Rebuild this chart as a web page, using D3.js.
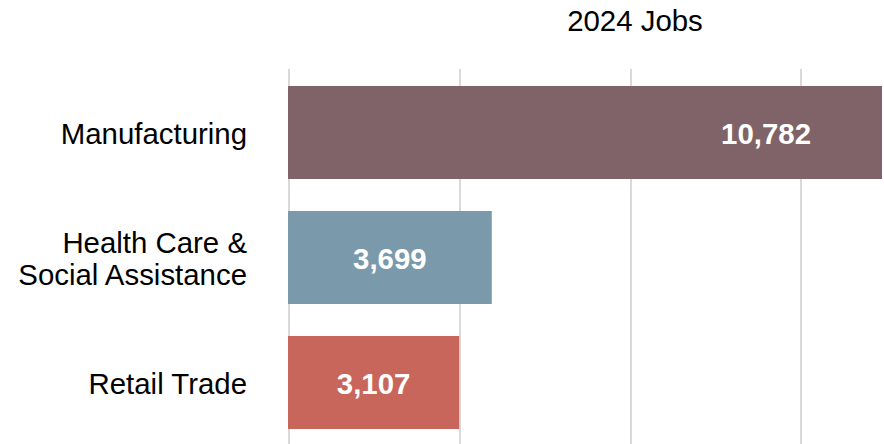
<!DOCTYPE html>
<html>
<head>
  <meta charset="utf-8" />
  <title>2024 Jobs</title>
  <script src="https://d3js.org/d3.v7.min.js"></script>
  <style>
    body {
      margin: 0;
      padding: 0;
      background: #fff;
      font-family: "Liberation Sans", Arial, sans-serif;
    }
    svg {
      display: block;
    }
    .grid line {
      stroke: #d9d9d9;
      stroke-width: 2;
      shape-rendering: crispEdges;
    }
  </style>
</head>
<body>
  <svg width="884" height="444"></svg>

  <script>
    // chart data
    const categories = [["Manufacturing"], ["Health Care &", "Social Assistance"], ["Retail Trade"]];
    const jobs = [10782, 3699, 3107];
    const colors = ["#806368", "#7a9aab", "#c8665b"];
    const gridTicks = [0, 3100, 6200, 9300];
    const title = "2024 Jobs";

    const width = 884, height = 444;
    const fontSize = "29.4px";
    const svg = d3.select("svg");

    const keys = categories.map(c => c.join(" "));
    const data = keys.map((k, i) => ({ key: k, lines: categories[i], value: jobs[i], color: colors[i] }));

    const xScale = d3.scaleLinear().domain([0, 10800]).range([288, 883]);
    const yScale = d3.scaleBand()
      .domain(keys)
      .range([70, 445])
      .paddingInner(0.256)
      .paddingOuter(0.128);

    // vertical grid
    svg.append("g")
      .attr("class", "grid")
      .selectAll("line")
      .data(gridTicks)
      .join("line")
      .attr("x1", d => Math.round(xScale(d)) + 0.5)
      .attr("x2", d => Math.round(xScale(d)) + 0.5)
      .attr("y1", 69)
      .attr("y2", height);

    // title
    svg.append("text")
      .attr("x", 635)
      .attr("y", 31)
      .attr("text-anchor", "middle")
      .attr("font-size", fontSize)
      .attr("fill", "#000")
      .text(title);

    // bars
    svg.append("g")
      .selectAll("rect")
      .data(data)
      .join("rect")
      .attr("x", xScale(0))
      .attr("y", d => yScale(d.key))
      .attr("width", d => xScale(d.value) - xScale(0))
      .attr("height", yScale.bandwidth())
      .attr("fill", d => d.color);

    // category labels
    const catLabels = svg.append("g")
      .selectAll("text")
      .data(data)
      .join("text")
      .attr("text-anchor", "end")
      .attr("font-size", fontSize)
      .attr("fill", "#000")
      .attr("x", 247)
      .attr("y", d => yScale(d.key) + yScale.bandwidth() / 2 + 11.5 - (d.lines.length - 1) * 16);

    catLabels.selectAll("tspan")
      .data(d => d.lines)
      .join("tspan")
      .attr("x", 247)
      .attr("dy", (d, i) => i === 0 ? 0 : 32)
      .text(d => d);

    // value labels (long bar runs off the edge, label sits near its visible end)
    const fmt = d3.format(",");
    svg.append("g")
      .selectAll("text")
      .data(data)
      .join("text")
      .attr("font-size", fontSize)
      .attr("font-weight", "bold")
      .attr("fill", "#fff")
      .attr("text-anchor", d => xScale(d.value) > width - 20 ? "end" : "middle")
      .attr("x", d => xScale(d.value) > width - 20
        ? xScale(d.value) - 71
        : (xScale(0) + xScale(d.value)) / 2)
      .attr("y", d => yScale(d.key) + yScale.bandwidth() / 2 + 11)
      .text(d => fmt(d.value));
  </script>
</body>
</html>
